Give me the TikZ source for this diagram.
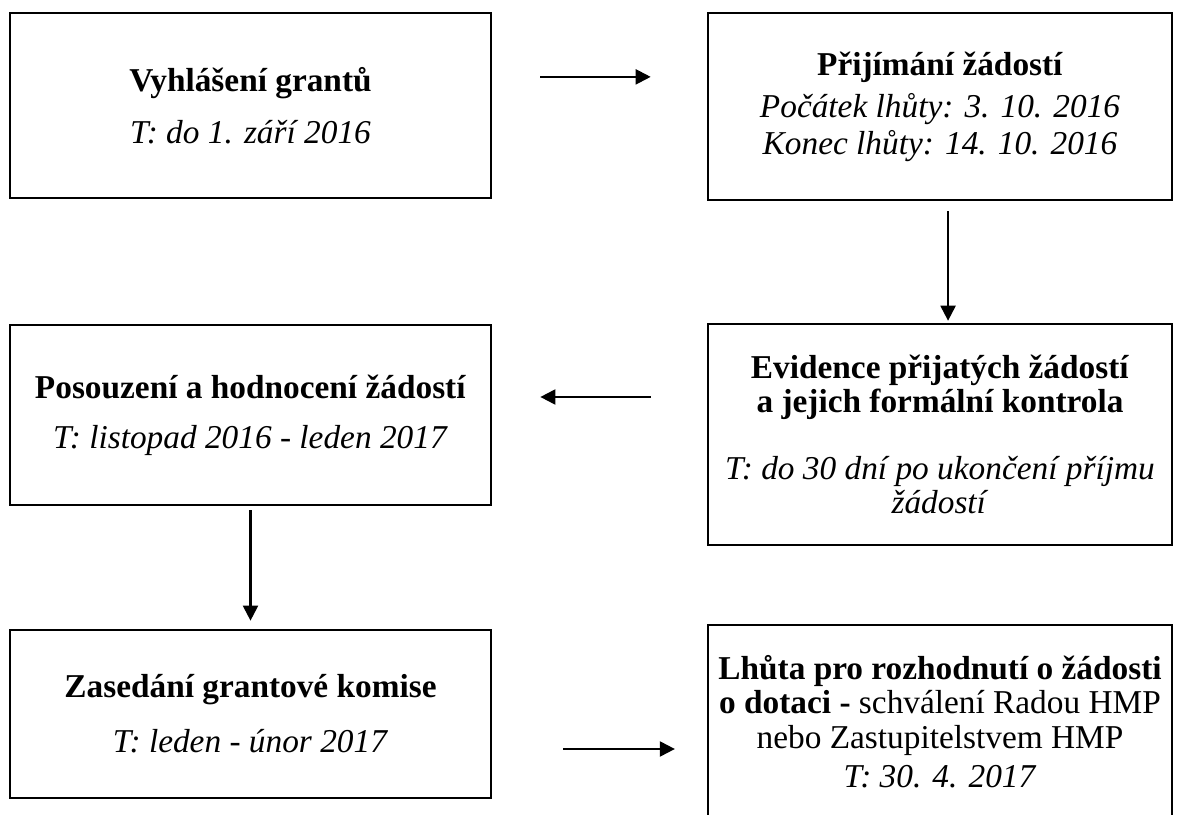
\documentclass[tikz,border=0pt]{standalone}
\usepackage{fontspec}
\setmainfont{Liberation Serif}
\usetikzlibrary{arrows.meta}

\begin{document}
\begin{tikzpicture}[x=0.36pt, y=-0.36pt, >={Triangle[length=5.4pt, width=5.4pt]}]

        % Styly
        \tikzset{
            krok/.style={draw, line width=0.9pt, align=center, inner sep=0pt, font=\fontsize{12}{13.3}\selectfont},
            levy/.style={krok, minimum width=173.2pt},
            pravy/.style={krok, minimum width=167pt},
            husty/.style={font=\fontsize{12}{12.4}\selectfont},
            sipka/.style={->, line width=0.75pt}
        }

        \clip (0,0) rectangle (1182,815);

        % --- Bloky ---
        \node[levy, minimum height=66.6pt] (vyhlaseni) at (250.5,105.5)
            {\textbf{Vyhlášení grantů}\\[5.3pt] \textit{T: do 1. září 2016}};
        \node[pravy, minimum height=67.3pt] (prijimani) at (940,106.5)
            {\textbf{Přijímání žádostí}\\[1.8pt] \textit{Počátek lhůty: 3. 10. 2016}\\ \textit{Konec lhůty: 14. 10. 2016}};
        \node[levy, minimum height=64.8pt] (posouzeni) at (250.5,415)
            {\textbf{Posouzení a hodnocení žádostí}\\[4.7pt] \textit{T: listopad 2016 - leden 2017}};
        \node[pravy, husty, minimum height=79.6pt] (evidence) at (940,434.5)
            {\textbf{Evidence přijatých žádostí}\\ \textbf{a jejich formální kontrola}\\[11.6pt] \textit{T: do 30 dní po ukončení příjmu}\\ \textit{žádostí}};
        \node[levy, minimum height=60.5pt] (zasedani) at (250.5,714)
            {\textbf{Zasedání grantové komise}\\[6.5pt] \textit{T: leden - únor 2017}};
        \node[pravy, husty, minimum height=69.5pt] (lhuta) at (940,721.5)
            {\textbf{Lhůta pro rozhodnutí o žádosti}\\ \textbf{o dotaci -} schválení Radou HMP\\ nebo Zastupitelstvem HMP\\[1.6pt] \textit{T: 30. 4. 2017}};

        % --- Šipky ---
        \draw[sipka, shorten <=17.3pt, shorten >=20.2pt] ([yshift=10.3pt]vyhlaseni.east) -- ([yshift=10.3pt]vyhlaseni.east -| prijimani.west);
        \draw[sipka, shorten <=3.6pt, shorten >=0.7pt] ([xshift=2.9pt]prijimani.south) -- ([xshift=2.9pt]evidence.north);
        \draw[sipka, shorten <=20.2pt, shorten >=17.3pt] ([yshift=13.5pt]evidence.west) -- ([yshift=13.5pt]evidence.west -| posouzeni.east);
        \draw[sipka, shorten <=1.4pt, shorten >=2.9pt] (posouzeni.south) -- (zasedani.north);
        \draw[sipka, shorten <=25.6pt, shorten >=11.5pt] ([yshift=-12.6pt]zasedani.east) -- ([yshift=-12.6pt]zasedani.east -| lhuta.west);

    \end{tikzpicture}
\end{document}
